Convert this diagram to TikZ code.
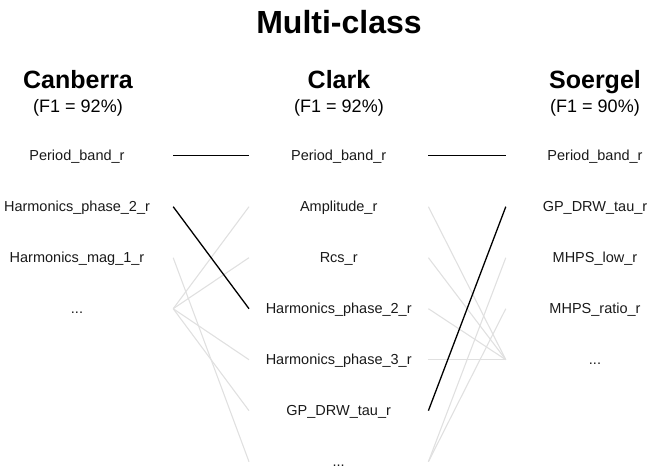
\documentclass[tikz,border=0pt]{standalone}
\usepackage{fontspec}
\setmainfont{Liberation Sans}
\begin{document}
\begin{tikzpicture}[x=1pt,y=-1pt,
  item/.style={inner sep=0pt,text height=10.4pt,text depth=0pt,font=\fontsize{14.5}{14.5}\selectfont,text=black!90},
  lcol/.style={item,minimum width=192pt},
  ccol/.style={item,minimum width=179pt},
  rcol/.style={item,minimum width=178pt},
  head/.style={inner sep=0pt,font=\bfseries\fontsize{25}{25}\selectfont,anchor=base},
  sub/.style={inner sep=0pt,font=\fontsize{18}{18}\selectfont,anchor=base},
  hit/.style={draw=black,line width=1.3pt},
  miss/.style={draw=black!12,line width=1.1pt}]
\useasboundingbox (0,0) rectangle (651,468);
\node[inner sep=0pt,font=\bfseries\fontsize{32}{32}\selectfont,anchor=base] (title) at (339,33.5) {Multi-class};
\node[head] (hA) at (78,89) {Canberra};
\node[sub] (sA) at (78,112.5) {(F1 = 92\%)};
\node[head] (hB) at (339,88.5) {Clark};
\node[sub] (sB) at (339,112.5) {(F1 = 92\%)};
\node[head] (hC) at (595,89) {Soergel};
\node[sub] (sC) at (595,112.5) {(F1 = 90\%)};
% left column
\node[lcol] (l1) at (77,155.7) {Period\_band\_r};
\node[lcol] (l2) at (77,206.7) {Harmonics\_phase\_2\_r};
\node[lcol] (l3) at (77,257.7) {Harmonics\_mag\_1\_r};
\node[lcol] (l4) at (77,308.7) {...};
% center column
\node[ccol] (c1) at (338.7,155.7) {Period\_band\_r};
\node[ccol] (c2) at (338.7,206.7) {Amplitude\_r};
\node[ccol] (c3) at (338.7,257.7) {Rcs\_r};
\node[ccol] (c4) at (338.7,308.7) {Harmonics\_phase\_2\_r};
\node[ccol] (c5) at (338.7,359.7) {Harmonics\_phase\_3\_r};
\node[ccol] (c6) at (338.7,410.7) {GP\_DRW\_tau\_r};
\node[ccol] (c7) at (338.7,461.7) {...};
% right column
\node[rcol] (r1) at (595,155.7) {Period\_band\_r};
\node[rcol] (r2) at (595,206.7) {GP\_DRW\_tau\_r};
\node[rcol] (r3) at (595,257.7) {MHPS\_low\_r};
\node[rcol] (r4) at (595,308.7) {MHPS\_ratio\_r};
\node[rcol] (r5) at (595,359.7) {...};
% gray connectors
\draw[miss] (l3.east) -- (c7.west);
\draw[miss] (l4.east) -- (c2.west);
\draw[miss] (l4.east) -- (c3.west);
\draw[miss] (l4.east) -- (c5.west);
\draw[miss] (l4.east) -- (c6.west);
\draw[miss] (c2.east) -- (r5.west);
\draw[miss] (c3.east) -- (r5.west);
\draw[miss] (c4.east) -- (r5.west);
\draw[miss] (c5.east) -- (r5.west);
\draw[miss] (c7.east) -- (r3.west);
\draw[miss] (c7.east) -- (r4.west);
% black connectors
\draw[hit] (l1.east) -- (c1.west);
\draw[hit] (l2.east) -- (c4.west);
\draw[hit] (c1.east) -- (r1.west);
\draw[hit] (c6.east) -- (r2.west);
\end{tikzpicture}
\end{document}
